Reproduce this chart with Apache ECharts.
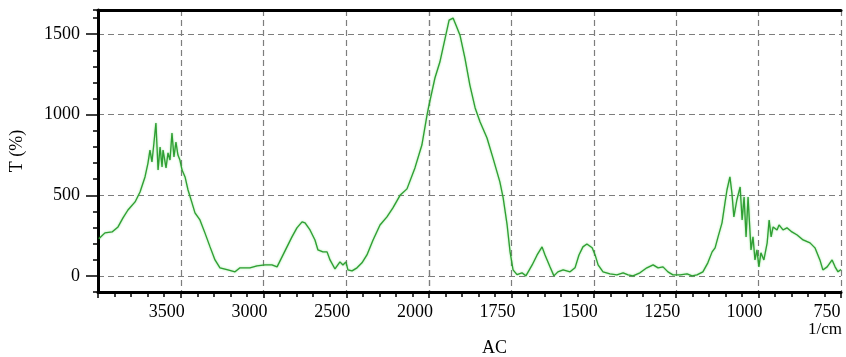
<!DOCTYPE html>
<html>
<head>
<meta charset="utf-8">
<title>IR spectrum</title>
<script src="https://cdn.jsdelivr.net/npm/echarts@6/dist/echarts.min.js"></script>
<style>
  html, body { margin: 0; padding: 0; background: #fff; }
  #chart { width: 846px; height: 357px; }
</style>
</head>
<body>
<div id="chart"></div>
<script>
// spectrum, wavenumber (1/cm) high -> low
const wavenumbers = [
  3995, 3958, 3915, 3879, 3849, 3819, 3776, 3746, 3716, 3698, 3686, 3674, 3662, 3650, 3637, 3625,
  3613, 3607, 3589, 3577, 3565, 3553, 3541, 3529, 3517, 3505, 3492, 3474, 3456, 3432, 3414, 3384,
  3354, 3323, 3293, 3263, 3215, 3172, 3142, 3082, 3039, 2991, 2949, 2918, 2888, 2858, 2828, 2798,
  2767, 2749, 2719, 2689, 2671, 2641, 2616, 2598, 2568, 2538, 2520, 2502, 2490, 2465, 2435, 2405,
  2375, 2338, 2296, 2254, 2218, 2175, 2133, 2085, 2043, 2012, 2000,
  1982, 1967, 1951, 1939, 1927, 1918, 1906, 1891, 1876, 1860, 1845, 1824, 1806, 1785, 1775, 1763,
  1754, 1745, 1733, 1718, 1706, 1687, 1672, 1657, 1648, 1633, 1621, 1609, 1593, 1572, 1557, 1545,
  1533, 1521, 1505, 1496, 1487, 1472, 1451, 1430, 1411, 1396, 1381, 1360, 1339, 1320, 1305, 1290,
  1275, 1260, 1238, 1217, 1202, 1187, 1169, 1154, 1141, 1132, 1123, 1111, 1102, 1096, 1087, 1081,
  1075, 1066, 1056, 1050, 1044, 1038, 1032, 1023, 1017, 1011, 1005, 999, 993, 984, 974, 968,
  962, 956, 944, 938, 926, 914, 899, 883, 865, 844, 829, 814, 805, 792, 777, 768,
  759, 750
];
const transmittance = [
  230, 267, 273, 304, 360, 409, 459, 521, 614, 700, 781, 707, 825, 949, 657, 800,
  676, 781, 670, 763, 719, 887, 738, 831, 750, 719, 657, 614, 533, 453, 391, 347,
  267, 180, 99, 50, 37, 25, 50, 50, 62, 68, 68, 56, 118, 180, 242, 298,
  335, 329, 285, 223, 161, 149, 149, 99, 43, 87, 68, 87, 37, 31, 50, 81,
  130, 223, 316, 366, 422, 500, 540, 670, 812, 998, 1060,
  1228, 1327, 1476, 1587, 1600, 1556, 1494, 1352, 1184, 1042, 955, 856, 732, 583, 484, 316,
  149, 37, 8, 19, 0, 68, 130, 180, 130, 56, 0, 25, 37, 25, 50, 130,
  180, 198, 174, 130, 68, 25, 12, 6, 19, 6, 0, 19, 50, 68, 50, 56,
  25, 6, 6, 12, 0, 6, 25, 81, 149, 174, 242, 329, 453, 533, 614, 515,
  366, 471, 552, 347, 490, 242, 490, 161, 242, 99, 161, 56, 143, 99, 205, 347,
  242, 304, 285, 316, 285, 298, 273, 254, 223, 205, 174, 99, 37, 56, 99, 56,
  25, 40
];
const yTickValues = [0, 500, 1000, 1500];

// the x scale doubles below 2000 1/cm, so the plot is two grids side by side
const points = wavenumbers.map((w, i) => [w, transmittance[i]]);
const highPart = points.filter((p) => p[0] >= 2000);
const lowPart = points.filter((p) => p[0] <= 2000);

const font = "Liberation Serif";
const gridLine = { show: true, lineStyle: { color: "#7d7d7d", width: 1.2, type: [6, 4] } };
const thick = { show: true, onZero: false, lineStyle: { color: "#000", width: 3 } };
const labelStyle = { fontFamily: font, fontSize: 18, color: "#000" };
const spectrumLine = { color: "#2f9e33", width: 1.3, shadowColor: "rgba(40,200,40,0.55)", shadowBlur: 2 };

function bottomX(gridIndex, min, max, interval, hide) {
  return {
    type: "value", gridIndex, min, max, interval, inverse: true, position: "bottom",
    axisLine: thick,
    axisTick: { show: true, length: 6, lineStyle: { color: "#000", width: 1.5 } },
    minorTick: { show: true, splitNumber: 5, length: 5, lineStyle: { color: "#000", width: 1.5 } },
    axisLabel: {
      ...labelStyle, margin: 11, padding: [0, 28, 0, 0],
      formatter: (v) => (hide.includes(v) ? "" : String(v)),
    },
    splitLine: gridLine,
  };
}
function topX(gridIndex, min, max) {
  return {
    type: "value", gridIndex, min, max, inverse: true, position: "top",
    axisLine: thick, axisTick: { show: false }, axisLabel: { show: false }, splitLine: { show: false },
  };
}

const chart = echarts.init(document.getElementById("chart"));
chart.setOption({
  backgroundColor: "#fff",
  animation: false,
  grid: [
    { left: 98, right: 417, top: 10, bottom: 65 },
    { left: 429, right: 5, top: 10, bottom: 65 },
  ],
  xAxis: [
    bottomX(0, 2000, 4000, 500, [4000, 2000]),
    bottomX(1, 750, 2000, 250, []),
    topX(0, 2000, 4000),
    topX(1, 750, 2000),
  ],
  yAxis: [
    {
      type: "value", gridIndex: 0, min: -100, max: 1650, position: "left",
      name: "T (%)", nameLocation: "middle", nameGap: 72,
      nameTextStyle: { fontFamily: font, fontSize: 18, color: "#000" },
      axisLine: thick,
      axisTick: { show: true, length: 12, customValues: yTickValues, lineStyle: { color: "#000", width: 1.5 } },
      axisLabel: { ...labelStyle, margin: 18, customValues: yTickValues, formatter: (v) => String(v) },
      splitLine: gridLine,
    },
    {
      type: "value", gridIndex: 0, min: -100, max: 1650, interval: 100, position: "left",
      axisLine: { show: false },
      axisTick: { show: true, length: 5, lineStyle: { color: "#000", width: 1.5 } },
      axisLabel: { show: false }, splitLine: { show: false },
    },
    {
      type: "value", gridIndex: 1, min: -100, max: 1650, position: "left",
      axisLine: { show: false },
      axisTick: { show: false, customValues: yTickValues },
      axisLabel: { show: false, customValues: yTickValues },
      splitLine: gridLine,
    },
  ],
  graphic: [
    { type: "text", left: 482, top: 339, style: { text: "AC", font: "18px 'Liberation Serif'", fill: "#000" } },
    { type: "text", left: 808, top: 321, style: { text: "1/cm", font: "17px 'Liberation Serif'", fill: "#000" } },
  ],
  series: [
    { type: "line", xAxisIndex: 0, yAxisIndex: 0, data: highPart, showSymbol: false, lineStyle: spectrumLine },
    { type: "line", xAxisIndex: 1, yAxisIndex: 2, data: lowPart, showSymbol: false, lineStyle: spectrumLine },
  ],
});
</script>
</body>
</html>
